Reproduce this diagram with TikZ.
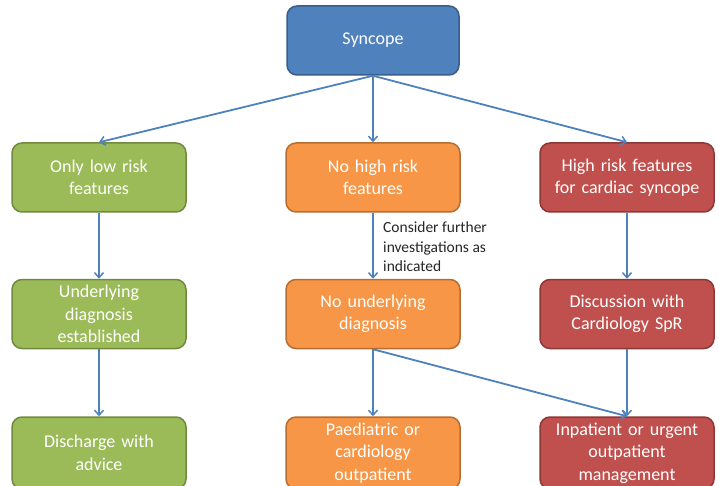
\documentclass[tikz,border=0pt]{standalone}
\usepackage{fontspec}
\setmainfont{Carlito}
\usetikzlibrary{arrows.meta}
\definecolor{cblue}{HTML}{4F81BD}
\definecolor{cblueD}{HTML}{385D8A}
\definecolor{cgreen}{HTML}{9BBB59}
\definecolor{cgreenD}{HTML}{71893F}
\definecolor{corange}{HTML}{F79646}
\definecolor{corangeD}{HTML}{B66D31}
\definecolor{cred}{HTML}{C0504D}
\definecolor{credD}{HTML}{8C3836}
\tikzset{
  box/.style={rounded corners=10pt, line width=1.5pt, minimum width=174pt, minimum height=69pt,
    text width=168pt, align=center, text=white, font=\fontsize{18}{22.5}\selectfont, inner sep=0pt},
  bluebox/.style={box, fill=cblue, draw=cblueD, minimum width=172pt},
  greenbox/.style={box, fill=cgreen, draw=cgreenD},
  orangebox/.style={box, fill=corange, draw=corangeD},
  redbox/.style={box, fill=cred, draw=credD},
  conn/.style={draw=cblue, line width=1.8pt, -{Straight Barb[length=5pt,width=9pt,line width=1.5pt]}},
  lbl/.style={font=\fontsize{15.5}{19.5}\selectfont, align=left, text=black!85, inner sep=0pt}
}
\begin{document}
\begin{tikzpicture}[x=1pt,y=1pt]
\useasboundingbox (0,0) rectangle (719,-486);
\clip (0,0) rectangle (719,-486);
\node[bluebox] (syn) at (373,-40.5) {Syncope};
\node[greenbox] (g1) at (99,-177.5) {Only low risk\\features};
\node[orangebox] (o1) at (373,-177.5) {No high risk\\features};
\node[redbox] (r1) at (627,-177.5) {High risk features\\for cardiac syncope};
\node[greenbox] (g2) at (99,-314) {Underlying\\diagnosis\\established};
\node[orangebox] (o2) at (373,-314) {No underlying\\diagnosis};
\node[redbox] (r2) at (627,-314) {Discussion with\\Cardiology SpR};
\node[greenbox, minimum height=72pt] (g3) at (99,-453) {Discharge with\\advice};
\node[orangebox, minimum height=72pt] (o3) at (373,-453) {Paediatric or\\cardiology\\outpatient};
\node[redbox, minimum height=72pt] (r3) at (627,-453) {Inpatient or urgent\\outpatient\\management};
\node[lbl, anchor=west] (note) at (383,-247) {Consider further\\investigations as\\indicated};
\draw[conn] (syn.south) -- (g1.north);
\draw[conn] (syn.south) -- (o1.north);
\draw[conn] (syn.south) -- (r1.north);
\draw[conn] (g1.south) -- (g2.north);
\draw[conn] (o1.south) -- (o2.north);
\draw[conn] (r1.south) -- (r2.north);
\draw[conn] (g2.south) -- (g3.north);
\draw[conn] (o2.south) -- (o3.north);
\draw[conn] (o2.south) -- (r3.north);
\draw[conn] (r2.south) -- (r3.north);
\end{tikzpicture}
\end{document}
